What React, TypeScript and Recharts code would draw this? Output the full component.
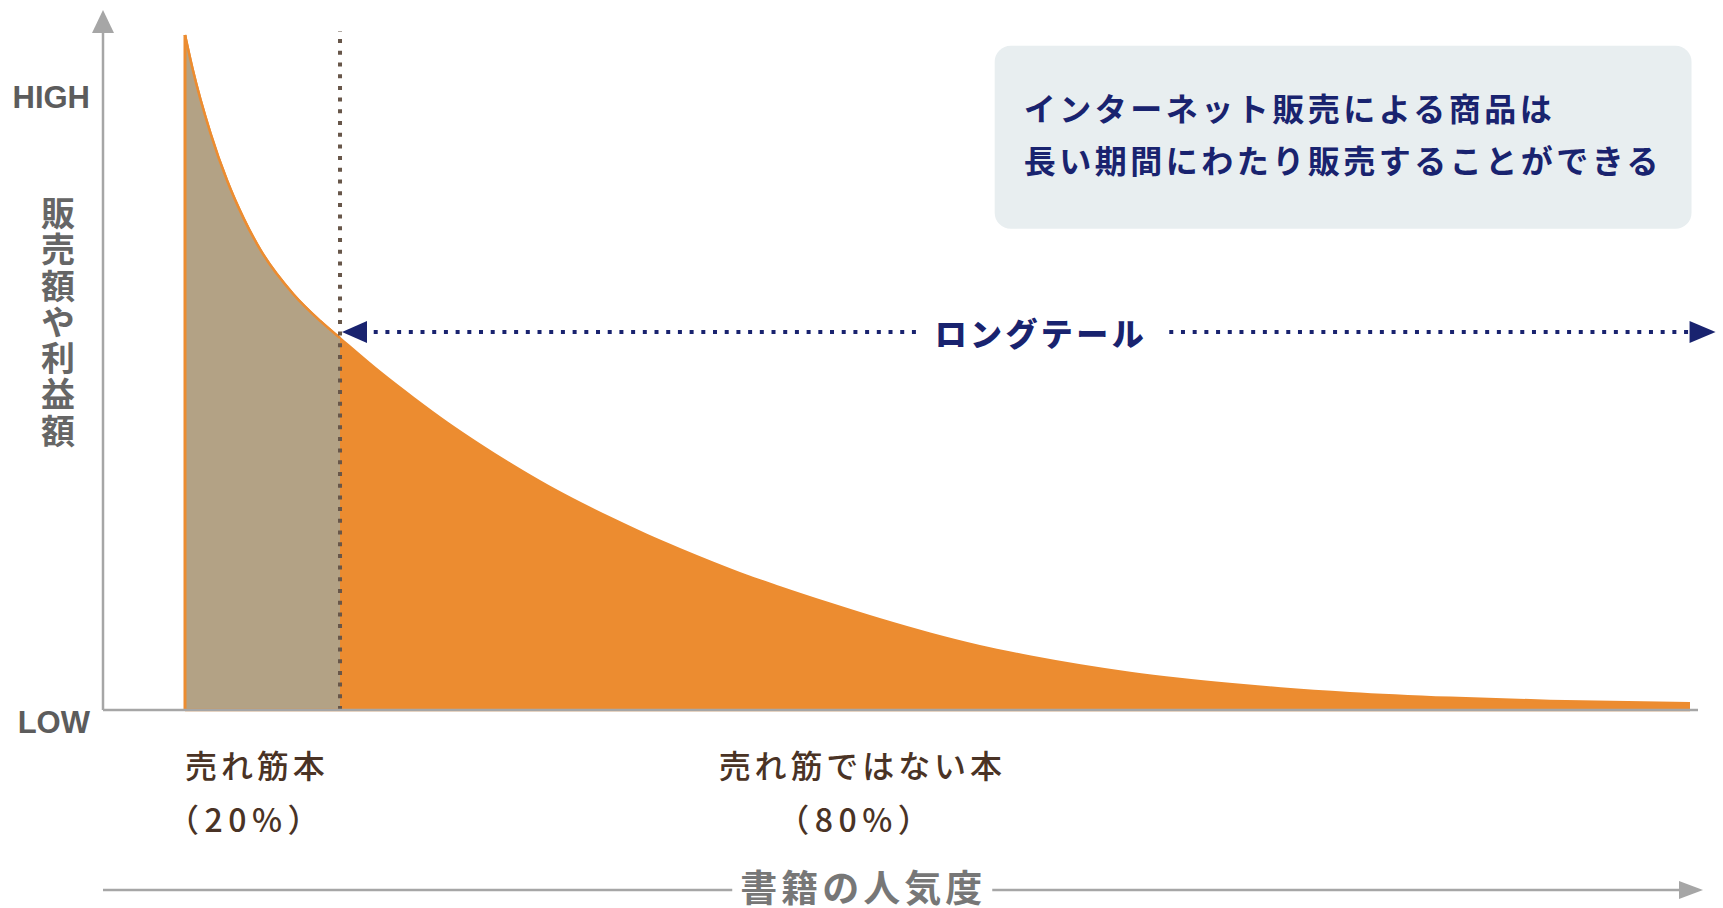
import React from 'react';
import {
  ComposedChart,
  Area,
  XAxis,
  YAxis,
  ReferenceLine,
  ReferenceArea,
  ReferenceDot,
} from 'recharts';

if (typeof document !== 'undefined') {
  document.body.style.margin = '0';
}

// ---- data ----
const ranks = [0, 0.5, 1.7, 2.8, 3.9, 5.0, 7.2, 9.0, 10.3, 13.0, 15.2, 17.4, 19.6, 21.8, 24.1, 26.3, 28.4, 30.7, 32.9, 35.1, 37.3, 39.5, 42.9, 46.2, 49.5, 52.8, 56.2, 59.5, 62.8, 66.1, 69.4, 72.8, 77.4, 84.1, 90.7, 100];
const sales = [100, 95.0, 85.4, 78.4, 72.8, 68.2, 61.6, 57.6, 55.1, 50.0, 46.2, 42.6, 39.3, 36.2, 33.2, 30.6, 28.3, 25.9, 23.8, 21.8, 19.9, 18.2, 15.7, 13.4, 11.3, 9.45, 7.9, 6.6, 5.5, 4.6, 3.85, 3.2, 2.5, 1.8, 1.35, 1.0];
const splitRank = 10.3;

const yTickValues = [0, 90.7];
const yTickLabels = ['LOW', 'HIGH'];
const xTickValues = [0, 45];
const xTickLines = [
  ['売れ筋本', '（20%）'],
  ['売れ筋ではない本', '（80%）'],
];
const yAxisTitle = '販売額や利益額';
const xAxisTitle = '書籍の人気度';
const xAxisTitleAt = 45;
const noteLines = ['インターネット販売による商品は', '長い期間にわたり販売することができる'];
const noteX = [53.8, 100.1];
const noteY = [71.3, 98.4];
const longTailLabel = 'ロングテール';
const longTailLevel = 56;
const longTailEnd = 101.7;
const longTailGap = [48.7, 65.4];
const longTailLabelAt = 56.8;

const data = ranks.map((rank, i) => ({
  rank,
  all: sales[i],
  head: rank <= splitRank ? sales[i] : null,
}));

const C = {
  tan: '#b3a285',
  orange: '#ec8c30',
  navy: '#19236f',
  axis: '#a6a6a6',
  dots: '#675649',
  gray: '#666666',
  brown: '#4a3325',
  box: '#e8eef0',
};
const JP = "'Noto Sans CJK JP', 'Noto Sans', sans-serif";
const LAT = "'Liberation Sans', Arial, sans-serif";

const YTick = (props: any) => {
  const { x, y, payload } = props;
  const idx = yTickValues.indexOf(payload.value);
  return (
    <text
      x={x}
      y={y + (payload.value === 0 ? 12 : 0)}
      textAnchor="end"
      dominantBaseline="central"
      fontFamily={LAT}
      fontWeight={700}
      fontSize={31}
      fill="#5c5c5c"
    >
      {yTickLabels[idx]}
    </text>
  );
};

const XTick = (props: any) => {
  const { x, y, payload } = props;
  const idx = xTickValues.indexOf(payload.value);
  const lines = xTickLines[idx] || [];
  const anchor = idx === 0 ? 'start' : 'middle';
  return (
    <g>
      {lines.map((t, i) => (
        <text
          key={i}
          x={x + (i === 1 ? (idx === 0 ? -18 : -6) : 0)}
          y={y + 54 + i * 54}
          textAnchor={anchor}
          dominantBaseline="central"
          fontFamily={JP}
          fontWeight={500}
          fontSize={32}
          letterSpacing={i === 0 ? 3.9 : 5.5}
          fill={C.brown}
        >
          {t}
        </text>
      ))}
    </g>
  );
};

const YDecor = (props: any) => {
  const { x, y, width } = props.viewBox;
  const ax = x + width;
  return (
    <g>
      <polygon points={`${ax},${y - 21} ${ax - 11},${y + 2} ${ax + 11},${y + 2}`} fill={C.axis} />
      <text
        x={x + 58}
        y={y + 165}
        style={{ writingMode: 'vertical-rl', textOrientation: 'upright' } as any}
        fontFamily={JP}
        fontWeight={700}
        fontSize={34}
        letterSpacing={2.3}
        fill={C.gray}
      >
        {yAxisTitle}
      </text>
    </g>
  );
};

const XDecor = (props: any) => {
  const { x, y, width } = props.viewBox;
  const ly = y + 180;
  const cx = x + 82 + (xAxisTitleAt / 100) * (width - 90);
  const half = 130;
  const end = x + width + 5;
  return (
    <g>
      <line x1={x} y1={ly} x2={cx - half} y2={ly} stroke={C.axis} strokeWidth={2.5} />
      <line x1={cx + half} y1={ly} x2={end - 20} y2={ly} stroke={C.axis} strokeWidth={2.5} />
      <polygon points={`${end},${ly} ${end - 24},${ly - 9} ${end - 24},${ly + 9}`} fill={C.axis} />
      <text
        x={cx + 1}
        y={ly - 4}
        textAnchor="middle"
        dominantBaseline="central"
        fontFamily={JP}
        fontWeight={700}
        fontSize={37}
        letterSpacing={4}
        fill="#777777"
      >
        {xAxisTitle}
      </text>
    </g>
  );
};

const LeftArrow = (p: any) => {
  const { x1, y1, x2 } = p;
  const tip = x1 + 2;
  return (
    <g>
      <line x1={tip + 20} y1={y1} x2={x2} y2={y1} stroke={C.navy} strokeWidth={4} strokeDasharray="4 7.7" />
      <polygon points={`${tip},${y1} ${tip + 25},${y1 - 11} ${tip + 25},${y1 + 11}`} fill={C.navy} />
    </g>
  );
};

const RightArrow = (p: any) => {
  const { x1, y1, x2 } = p;
  return (
    <g>
      <line x1={x1} y1={y1} x2={x2 - 20} y2={y1} stroke={C.navy} strokeWidth={4} strokeDasharray="4 7.7" />
      <polygon points={`${x2},${y1} ${x2 - 26},${y1 - 11} ${x2 - 26},${y1 + 11}`} fill={C.navy} />
    </g>
  );
};

const NoteBox = (p: any) => (
  <g>
    <rect x={p.x} y={p.y} width={p.width} height={p.height} rx={16} ry={16} fill={C.box} />
    {noteLines.map((t, i) => (
      <text
        key={i}
        x={p.x + 29}
        y={p.y + 61 + i * 52}
        dominantBaseline="central"
        fontFamily={JP}
        fontWeight={700}
        fontSize={32}
        letterSpacing={3.5}
        fill={C.navy}
      >
        {t}
      </text>
    ))}
  </g>
);

const LongTailText = (p: any) => (
  <text
    x={p.cx + 1}
    y={p.cy}
    textAnchor="middle"
    dominantBaseline="central"
    fontFamily={JP}
    fontWeight={900}
    fontSize={32}
    letterSpacing={3.4}
    fill={C.navy}
  >
    {longTailLabel}
  </text>
);

export default function App() {
  return (
    <div style={{ width: 1723, height: 908, background: '#fff' }}>
      <ComposedChart width={1723} height={908} data={data} margin={{ top: 31, right: 25, bottom: 0, left: 0 }}>
        <XAxis
          type="number"
          dataKey="rank"
          domain={[0, 100]}
          padding={{ left: 82, right: 8 }}
          ticks={xTickValues}
          interval={0}
          tickLine={false}
          tickSize={0}
          tickMargin={0}
          tick={<XTick />}
          axisLine={{ stroke: C.axis, strokeWidth: 2.5 }}
          height={198}
          label={<XDecor />}
        />
        <YAxis
          type="number"
          domain={[0, 100]}
          padding={{ top: 4, bottom: 0 }}
          ticks={yTickValues}
          interval={0}
          tickLine={false}
          tickSize={0}
          tickMargin={13}
          tick={<YTick />}
          axisLine={{ stroke: C.axis, strokeWidth: 2.5 }}
          width={103}
          label={<YDecor />}
        />
        <ReferenceArea x1={noteX[0]} x2={noteX[1]} y1={noteY[0]} y2={noteY[1]} ifOverflow="visible" shape={<NoteBox />} />
        <Area
          type="monotone"
          dataKey="all"
          stroke={C.orange}
          strokeWidth={2.5}
          fill={C.orange}
          fillOpacity={1}
          dot={false}
          activeDot={false}
          isAnimationActive={false}
        />
        <Area
          type="monotone"
          dataKey="head"
          stroke={C.orange}
          strokeWidth={2.5}
          fill={C.tan}
          fillOpacity={1}
          dot={false}
          activeDot={false}
          isAnimationActive={false}
        />
        <ReferenceLine segment={[{ x: 0, y: 0 }, { x: 0, y: 100 }]} stroke={C.orange} strokeWidth={3} ifOverflow="visible" />
        <ReferenceLine segment={[{ x: 0, y: 0 }, { x: 100, y: 0 }]} stroke={C.orange} strokeWidth={2.5} ifOverflow="visible" />
        <ReferenceLine x={splitRank} stroke={C.dots} strokeWidth={4} strokeDasharray="4 7.7" ifOverflow="visible" />
        <ReferenceLine
          segment={[{ x: splitRank, y: longTailLevel }, { x: longTailGap[0], y: longTailLevel }]}
          ifOverflow="visible"
          shape={<LeftArrow />}
        />
        <ReferenceLine
          segment={[{ x: longTailGap[1], y: longTailLevel }, { x: longTailEnd, y: longTailLevel }]}
          ifOverflow="visible"
          shape={<RightArrow />}
        />
        <ReferenceDot x={longTailLabelAt} y={longTailLevel} ifOverflow="visible" shape={<LongTailText />} />
      </ComposedChart>
    </div>
  );
}
